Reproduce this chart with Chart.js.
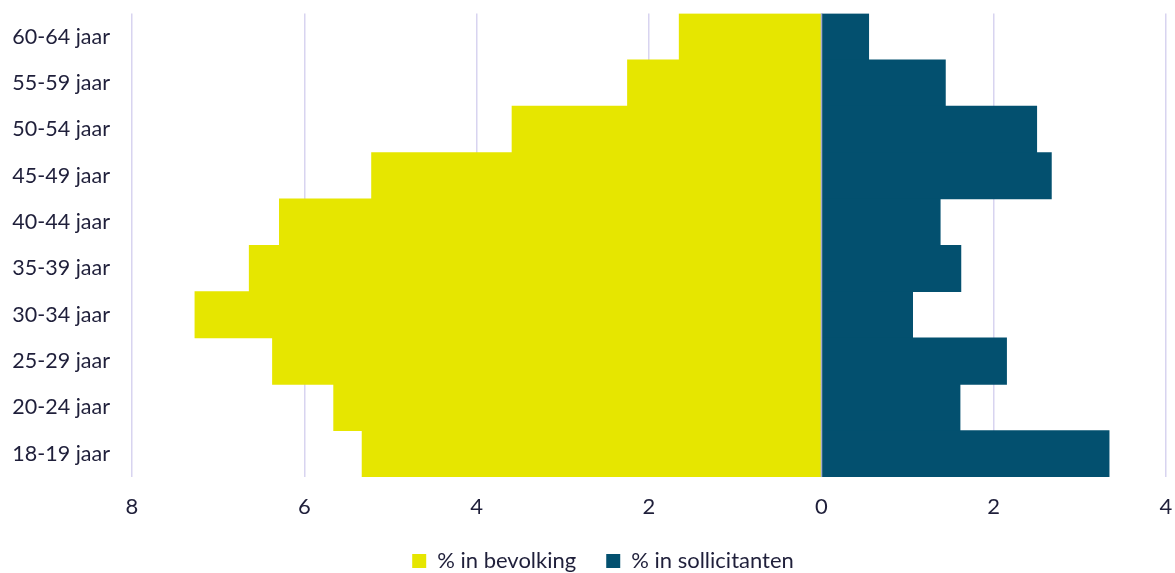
<!DOCTYPE html>
<html>
<head>
<meta charset="utf-8">
<script src="https://cdn.jsdelivr.net/npm/chart.js@4.4.1/dist/chart.umd.min.js"></script>
<style>
  html, body { margin: 0; padding: 0; background: #ffffff; }
  #wrap { width: 1175px; height: 573px; position: relative; }
</style>
</head>
<body>
<div id="wrap"><canvas id="chart"></canvas></div>
<script>
// Age groups, top to bottom
const categories = ['60-64 jaar', '55-59 jaar', '50-54 jaar', '45-49 jaar', '40-44 jaar',
                    '35-39 jaar', '30-34 jaar', '25-29 jaar', '20-24 jaar', '18-19 jaar'];
// Share of the population per age group (%), drawn to the left
const bevolking = [1.65, 2.25, 3.59, 5.22, 6.29, 6.64, 7.27, 6.37, 5.66, 5.33];
// Share of applicants per age group (%), drawn to the right
const sollicitanten = [0.55, 1.44, 2.50, 2.67, 1.38, 1.62, 1.06, 2.15, 1.61, 3.34];
// Value axis range and step
const xMin = -8, xMax = 4, xStep = 2;

const textColor = '#1f1f3a';
const font = { family: 'Lato, "Open Sans", sans-serif', size: 22 };

// Line along the zero value, drawn over the bars
const zeroLine = {
  id: 'zeroLine',
  afterDatasetsDraw(chart) {
    const { ctx, chartArea, scales } = chart;
    const x = Math.round(scales.x.getPixelForValue(0)) + 0.5;
    ctx.save();
    ctx.strokeStyle = '#a4abc6';
    ctx.lineWidth = 1.5;
    ctx.beginPath();
    ctx.moveTo(x, chartArea.top);
    ctx.lineTo(x, chartArea.bottom);
    ctx.stroke();
    ctx.restore();
  }
};

// Nudge the legend row a little to the right of the canvas centre
const legendNudge = {
  id: 'legendNudge',
  afterLayout(chart) {
    const l = chart.legend;
    if (!l) return;
    l.left += 20;
    l.right += 20;
  }
};

new Chart(document.getElementById('chart'), {
  type: 'bar',
  data: {
    labels: categories,
    datasets: [
      {
        label: '% in bevolking',
        data: bevolking.map(v => -v),
        backgroundColor: '#e6e600',
        borderWidth: 0
      },
      {
        label: '% in sollicitanten',
        data: sollicitanten,
        backgroundColor: '#03506f',
        borderWidth: 0
      }
    ]
  },
  options: {
    indexAxis: 'y',
    responsive: true,
    maintainAspectRatio: false,
    animation: false,
    datasets: { bar: { barPercentage: 1, categoryPercentage: 1 } },
    layout: { padding: { top: 13.5, right: 9, bottom: 0, left: 0 } },
    plugins: {
      tooltip: { enabled: false },
      legend: {
        position: 'bottom',
        maxHeight: 53,
        labels: {
          color: textColor,
          font: font,
          boxWidth: 14,
          boxHeight: 14,
          padding: 30
        }
      }
    },
    scales: {
      x: {
        stacked: true,
        min: xMin,
        max: xMax,
        ticks: {
          stepSize: xStep,
          color: textColor,
          font: font,
          padding: 17,
          callback: v => Math.abs(v)
        },
        grid: { color: '#d8d4f0', lineWidth: 1.5, drawTicks: false },
        border: { display: false },
        afterFit: s => {
          s.height = 43;
          s.paddingLeft = 0;
          s.paddingRight = 0;
        }
      },
      y: {
        stacked: true,
        ticks: { color: textColor, font: { family: font.family, size: 21.5 }, padding: 22 },
        grid: { display: false, drawTicks: false },
        border: { display: false },
        afterFit: s => {
          s.width = 132;
          s.paddingTop = 0;
          s.paddingBottom = 0;
        }
      }
    }
  },
  plugins: [zeroLine, legendNudge]
});
</script>
</body>
</html>
